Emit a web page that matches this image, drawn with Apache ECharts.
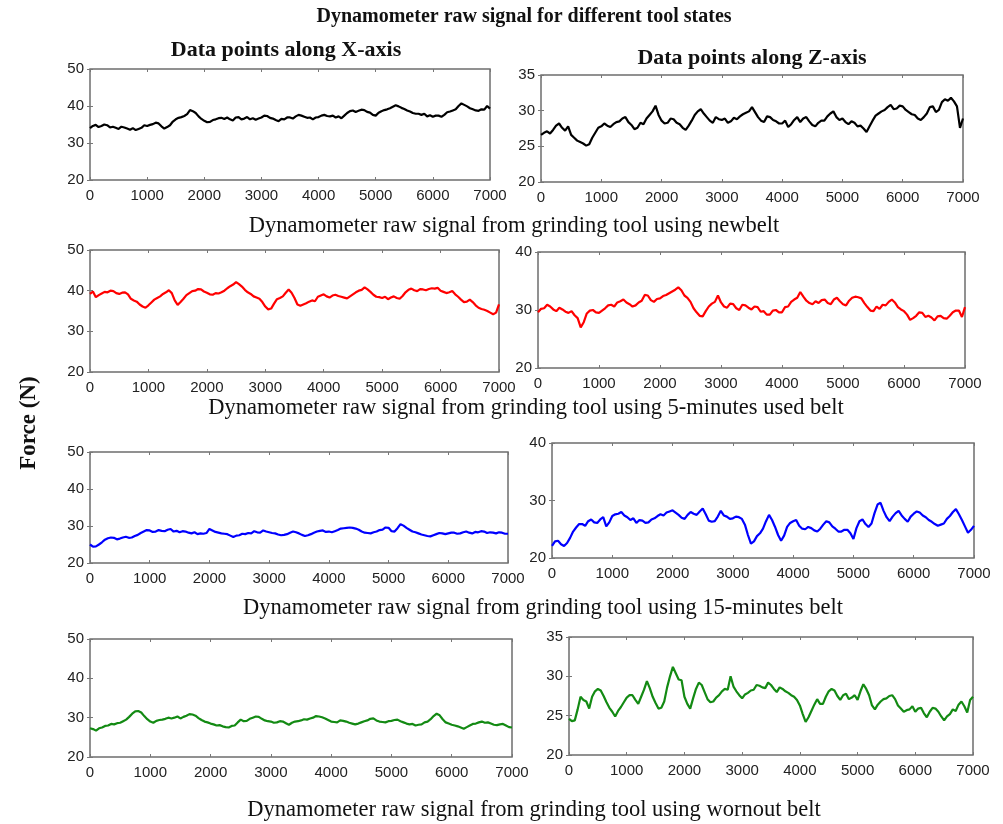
<!DOCTYPE html>
<html>
<head>
<meta charset="utf-8">
<script src="https://cdn.jsdelivr.net/npm/echarts@6/dist/echarts.min.js"></script>
<style>
  html, body { margin: 0; padding: 0; background: #fff; }
  #container { width: 1003px; height: 824px; }
</style>
</head>
<body>
<div id="container"></div>
<script>
// one sample every 50 points, 0..7000 (each row of 20 = 1000 points)
const step = 50;

const xNewBelt = [34, 34.6, 34.9, 34.3, 34.6, 35, 34.8, 34.2, 34.4, 34.1, 33.8, 34.4, 34.2, 33.9, 33.6, 34, 33.5, 33.8, 34.1, 34.8,
  34.6, 34.9, 35.1, 35.5, 35.3, 34.5, 33.9, 34.3, 34.8, 35.8, 36.4, 36.8, 37, 37.3, 37.8, 38.9, 38.6, 38.1, 37.2, 36.5,
  36, 35.6, 35.7, 36.2, 36.4, 36.7, 36.8, 36.5, 36.9, 36.4, 36.1, 36.9, 37, 36.4, 36.6, 37, 36.4, 36.7, 36.3, 36.6,
  36.9, 37.4, 37.3, 36.8, 36.6, 36.2, 35.9, 36.5, 36.4, 36.9, 36.9, 36.6, 37.2, 37.6, 37.4, 37.1, 36.8, 36.9, 36.4, 36.9,
  37, 37.4, 37.6, 37.3, 37.2, 37.4, 36.9, 37.2, 36.7, 37.4, 38.1, 38.6, 38.8, 38.4, 38.7, 39, 38.9, 38.4, 38.2, 37.6,
  37.4, 38.2, 38.6, 38.9, 39.1, 39.4, 39.8, 40.2, 39.9, 39.5, 39.2, 38.8, 38.5, 38.1, 37.9, 37.9, 37.6, 37.9, 37.2, 37.5,
  37.1, 37.4, 37.4, 37.1, 37.6, 38.3, 38.5, 38.8, 39.1, 40, 40.7, 40.3, 39.9, 39.4, 39.1, 38.8, 38.7, 39.1, 39, 40, 39.3];
const zNewBelt = [26.6, 26.9, 27.1, 26.8, 27.3, 27.9, 28.2, 27.6, 27.2, 27.8, 26.6, 26.2, 25.8, 25.6, 25.4, 25.1, 25.3, 26.2, 26.9, 27.6,
  27.8, 28.2, 27.9, 27.7, 28.1, 28.4, 28.5, 28.9, 29.1, 28.4, 28, 27.4, 27.6, 28.3, 28.1, 28.9, 29.4, 29.9, 30.7, 29.4,
  28.6, 28.2, 28.3, 28.9, 28.8, 28.3, 28.1, 27.6, 27.3, 27.9, 28.6, 29.4, 29.9, 30.2, 29.6, 29.1, 28.6, 28.3, 29.1, 28.8,
  28.7, 28.9, 28.3, 28.5, 29, 28.8, 29.2, 29.5, 29.7, 29.9, 30.5, 29.8, 29.1, 28.6, 28.4, 29.2, 29.1, 28.7, 28.5, 28.2,
  28.2, 28.6, 27.7, 28.1, 28.7, 29.1, 28.4, 28.9, 29.1, 28.5, 28, 27.8, 28.3, 28.6, 28.6, 29.2, 29.6, 29.9, 29.1, 28.7,
  28.9, 28.4, 28.1, 28.5, 28.3, 27.8, 27.9, 27.5, 27, 27.8, 28.6, 29.3, 29.6, 29.9, 30.1, 30.5, 30.8, 30.2, 30.3, 30.7,
  30.6, 30.1, 29.8, 29.5, 29.4, 28.9, 28.7, 29.1, 29.6, 30.5, 30.6, 29.8, 30.1, 31.2, 31.6, 31.4, 31.8, 31.3, 30.6, 27.6, 28.9];
const x5Min = [39.2, 39.8, 38.4, 38.9, 39.3, 39.7, 39.6, 40, 39.9, 39.4, 39.2, 39.5, 39.6, 39.1, 38, 37.6, 37.3, 36.6, 36.1, 35.8,
  36.4, 37.1, 37.8, 38.2, 38.6, 39.2, 39.6, 40.1, 39.4, 37.6, 36.5, 37.2, 38, 38.9, 39.4, 39.9, 40, 40.4, 40.3, 39.8,
  39.5, 39.1, 39, 39.4, 39.3, 39.6, 40, 40.6, 41.1, 41.5, 42.1, 41.6, 41, 40.2, 39.6, 39.2, 38.6, 38.3, 38, 37.2,
  36.1, 35.4, 35.6, 36.8, 37.9, 38.2, 38.6, 39.5, 40.3, 39.5, 38.2, 36.6, 36.3, 36.6, 36.9, 37.3, 37.6, 37.4, 38.5, 38.8,
  39.1, 38.6, 38.3, 38.8, 39, 38.7, 38.5, 38.3, 38.1, 38.6, 39.1, 39.6, 40, 40.2, 40.8, 40.3, 39.7, 39, 38.5, 38.4,
  38.2, 38.5, 37.9, 38.3, 38.6, 38.2, 38, 38.7, 39.6, 40.2, 40.5, 40.1, 39.9, 40.4, 40.3, 40.1, 40.4, 40.6, 40.5, 40.7,
  40, 39.7, 39.4, 39.6, 39.9, 39.1, 38.5, 37.8, 37.2, 37.3, 37.8, 37.2, 36.4, 35.8, 35.5, 35.3, 35, 34.6, 34.2, 34.6, 36.6];
const z5Min = [29.6, 30.2, 30.3, 30.9, 30.6, 30.1, 29.8, 30.4, 30.1, 29.7, 29.5, 29.8, 29.1, 28.6, 27, 27.9, 29.4, 29.9, 30, 29.6,
  29.5, 29.9, 30.3, 30.8, 30.9, 30.6, 31.3, 31.5, 31.8, 31.3, 31, 30.6, 30.8, 31.3, 31.6, 32.6, 32.5, 31.7, 31.4, 31.9,
  32, 32.4, 32.6, 32.9, 33.2, 33.5, 33.9, 33.4, 32.5, 32.1, 31.4, 30.3, 29.6, 29, 28.9, 29.8, 30.6, 31.1, 31.4, 32.5,
  31.3, 30.6, 30.4, 31.1, 31, 30.3, 30, 30.9, 30.8, 30.4, 30.1, 30.6, 30.5, 29.7, 29.8, 29.2, 29.2, 29.9, 30, 29.6,
  29.6, 30.5, 30.6, 31.4, 31.8, 32.1, 33.1, 32.3, 31.6, 31.2, 31, 31.5, 31.2, 31.7, 31.8, 31.2, 31, 31.8, 32.1, 31.5,
  31, 30.8, 31.6, 32.1, 32.3, 32.2, 32, 31.2, 30.5, 29.9, 29.8, 30.6, 30.2, 30.9, 30.8, 31.4, 31.8, 31.3, 30.5, 30.1,
  29.8, 29.2, 28.3, 28.6, 29, 29.6, 29.5, 28.8, 29, 28.7, 28.2, 28.9, 29, 28.6, 28.5, 29, 29.6, 29.9, 29.9, 28.8, 30.5];
const x15Min = [25, 24.4, 24.5, 25, 25.6, 26.3, 26.7, 26.9, 26.8, 26.4, 26.6, 26.9, 27.1, 26.8, 26.9, 27.3, 27.6, 28.1, 28.5, 28.9,
  28.8, 28.4, 28.5, 28.9, 28.7, 28.6, 29, 29.2, 28.5, 28.7, 28.3, 28.6, 28.5, 28.2, 28, 28.3, 27.8, 28, 27.9, 28.1,
  29.2, 28.8, 28.4, 28.2, 28, 27.9, 27.8, 27.4, 27, 27.4, 27.5, 27.9, 27.8, 28.1, 28, 28.6, 28.3, 28.2, 28.8, 28.5,
  28.3, 28.1, 28, 27.7, 27.5, 27.6, 27.8, 28.2, 28.5, 28.3, 28, 27.6, 27.3, 27.5, 27.8, 28.2, 28.5, 28.7, 28.8, 28.4,
  28.5, 28.3, 28.6, 28.9, 29.3, 29.4, 29.5, 29.6, 29.5, 29.3, 29, 28.5, 28.2, 28.1, 28, 28.3, 28.5, 28.9, 29, 29.6,
  29.5, 28.6, 28.5, 29.4, 30.5, 30.1, 29.5, 29, 28.5, 28.3, 28, 27.7, 27.5, 27.3, 27.2, 27.5, 27.8, 28.1, 28, 27.8,
  28, 28.2, 28.2, 27.9, 28, 28.3, 28.5, 28.2, 28, 28.4, 28.3, 28.6, 28.5, 28.1, 28.3, 28.2, 28, 28.3, 28.2, 27.9, 27.9];
const z15Min = [22.1, 22.9, 23, 22.4, 22.1, 22.6, 23.5, 24.6, 25.3, 25.9, 25.9, 25.6, 26.4, 26.7, 26.2, 26.1, 26.7, 27.1, 25.5, 26.2,
  27.3, 27.6, 27.7, 28, 27.4, 27.1, 26.6, 26.9, 26.1, 26.6, 26.5, 26.1, 26.2, 26.7, 26.9, 27.3, 27.6, 27.4, 27.9, 28.1,
  28.3, 27.9, 27.5, 27, 26.8, 27.5, 28, 27.7, 27.5, 28.1, 28.6, 27.6, 26.5, 26.3, 26.4, 27.2, 28.2, 27.4, 27.2, 26.8,
  26.9, 27.2, 27.1, 26.8, 25.8, 24, 22.5, 22.9, 23.8, 24.3, 25.1, 26.4, 27.5, 26.6, 25.4, 24, 23, 23.9, 25.4, 26.1,
  26.4, 26.6, 25.6, 25.1, 25, 25.4, 25.2, 24.8, 24.6, 25.1, 25.8, 26.4, 26.2, 25.5, 25.1, 24.6, 24.6, 24.9, 24.9, 24.3,
  23.3, 25.2, 26.4, 26.7, 25.9, 25.4, 26, 27.8, 29.3, 29.6, 28.2, 27.1, 26.4, 27.2, 27.8, 28.2, 27.4, 26.8, 26.3, 27.2,
  27.7, 28.1, 27.9, 27.4, 27.1, 26.6, 26.3, 25.9, 25.6, 25.8, 26, 26.8, 27.3, 28, 28.5, 27.6, 26.6, 25.5, 24.4, 24.9, 25.6];
const xWornout = [27.3, 27.1, 26.7, 27.3, 27.5, 27.9, 28, 28.4, 28.3, 28.6, 28.7, 29.1, 29.5, 30.2, 31, 31.6, 31.7, 31.3, 30.4, 29.6,
  29, 28.7, 29.2, 29.4, 29.5, 29.7, 30, 29.8, 30, 30.3, 29.8, 30.2, 30.5, 30.9, 30.8, 30.5, 29.9, 29.4, 29, 28.8,
  28.5, 28.3, 28, 28.1, 27.8, 27.6, 27.5, 27.9, 28, 28.8, 29.5, 29.1, 29.2, 29.7, 30, 30.3, 30.2, 29.7, 29.3, 29.1,
  29, 28.7, 28.8, 29.1, 29, 28.6, 28.2, 28.7, 29, 29.1, 29.3, 29.6, 29.5, 29.8, 30, 30.4, 30.3, 30.1, 29.8, 29.4,
  29, 28.9, 28.8, 29.3, 29.2, 29, 28.7, 28.5, 28.3, 28.5, 28.8, 29.1, 29.3, 29.7, 29.8, 29.3, 29, 28.9, 28.8, 29.1,
  29.2, 29.4, 29.5, 29.1, 28.8, 28.5, 28.3, 28.4, 28, 28.2, 28.3, 28.8, 29, 29.6, 30.4, 31, 30.6, 29.6, 28.8, 28.5,
  28.2, 28, 27.8, 27.5, 27.2, 27.6, 28, 28.4, 28.5, 28.8, 29, 28.7, 28.8, 28.5, 28.2, 28.1, 28.3, 28.4, 28, 27.6, 27.5];
const zWornout = [24.6, 24.3, 24.4, 25.8, 27.4, 27, 26.8, 25.9, 27.4, 28.1, 28.4, 28.2, 27.5, 26.7, 26, 25.5, 24.9, 25.6, 26.1, 26.7,
  27.3, 27.6, 27.6, 27, 26.5, 27.4, 28.3, 29.4, 28.5, 27.4, 26.6, 25.9, 26, 26.8, 28.6, 30, 31.2, 30.4, 29.6, 29.5,
  27.4, 26.5, 25.9, 27.2, 28.4, 29.2, 28.9, 28, 27.1, 26.7, 26.8, 27.3, 27.6, 28.1, 28.4, 28.3, 30, 28.7, 28.1, 27.6,
  27.2, 27.7, 27.9, 28.2, 28.3, 28.9, 28.8, 28.6, 28.5, 29.2, 28.9, 28.4, 28, 28.6, 28.4, 28.1, 27.9, 27.6, 27.4, 27,
  26.3, 25.2, 24.2, 24.8, 25.6, 26.4, 27.1, 26.5, 26.5, 27.4, 28.1, 28.4, 28.2, 27.5, 27, 27.6, 27.8, 27.1, 27.3, 27.6,
  27, 28.1, 29, 28.4, 27.6, 26.3, 25.8, 26.4, 26.8, 27.1, 27.2, 27.5, 27.6, 27.1, 26.3, 25.9, 25.5, 25.7, 25.8, 26.2,
  25.5, 25.9, 26, 25.3, 24.8, 25.5, 26, 25.9, 25.5, 24.9, 24.4, 24.9, 25.2, 25.8, 25.6, 26.4, 26.8, 26.2, 25.4, 27, 27.4];

const subtitles = [
  'Dynamometer raw signal from grinding tool using newbelt',
  'Dynamometer raw signal from grinding tool using 5-minutes used belt',
  'Dynamometer raw signal from grinding tool using 15-minutes belt',
  'Dynamometer raw signal from grinding tool using wornout belt'
];

let panels = [
  { data: xNewBelt, color: '#000000', min: 20, max: 50, interval: 10, left: 90, top: 69, width: 400, height: 111 },
  { data: zNewBelt, color: '#000000', min: 20, max: 35, interval: 5, left: 541, top: 75, width: 422, height: 107 },
  { data: x5Min, color: '#ff0000', min: 20, max: 50, interval: 10, left: 90, top: 250, width: 409, height: 122 },
  { data: z5Min, color: '#ff0000', min: 20, max: 40, interval: 10, left: 538, top: 252, width: 427, height: 116 },
  { data: x15Min, color: '#0000ff', min: 20, max: 50, interval: 10, left: 90, top: 452, width: 418, height: 111 },
  { data: z15Min, color: '#0000ff', min: 20, max: 40, interval: 10, left: 552, top: 443, width: 422, height: 115 },
  { data: xWornout, color: '#138a13', min: 20, max: 50, interval: 10, left: 90, top: 639, width: 422, height: 118 },
  { data: zWornout, color: '#138a13', min: 20, max: 35, interval: 5, left: 569, top: 637, width: 404, height: 118 }
];

let tickStyle = { show: true, inside: true, length: 3, lineStyle: { color: '#777', width: 1 } };
let labelStyle = {
  color: '#222', fontSize: 15, fontFamily: 'Liberation Sans, Arial, sans-serif',
  formatter: function (v) { return String(v); }
};

let grids = [], xAxes = [], yAxes = [], series = [];
panels.forEach(function (p, i) {
  grids.push({
    left: p.left, top: p.top, width: p.width, height: p.height,
    show: true, borderColor: '#6e6e6e', borderWidth: 1.5, backgroundColor: '#fff'
  });
  ['bottom', 'top'].forEach(function (pos) {
    xAxes.push({
      type: 'value', gridIndex: i, position: pos, min: 0, max: 7000, interval: 1000,
      axisLine: { show: false }, axisTick: tickStyle, splitLine: { show: false },
      axisLabel: pos === 'bottom' ? Object.assign({ margin: 8 }, labelStyle) : { show: false }
    });
  });
  ['left', 'right'].forEach(function (pos) {
    yAxes.push({
      type: 'value', gridIndex: i, position: pos, min: p.min, max: p.max, interval: p.interval,
      axisLine: { show: false }, axisTick: tickStyle, splitLine: { show: false },
      axisLabel: pos === 'left' ? Object.assign({ margin: 6 }, labelStyle) : { show: false }
    });
  });
  series.push({
    type: 'line', xAxisIndex: i * 2, yAxisIndex: i * 2, showSymbol: false,
    lineStyle: { color: p.color, width: 2.2 },
    data: p.data.map(function (v, k) { return [k * step, v]; })
  });
});

let serif = 'Liberation Serif, Times New Roman, serif';
function label(text, x, y, size, weight) {
  return {
    type: 'text', x: x, y: y,
    style: { text: text, fontFamily: serif, fontSize: size, fontWeight: weight, fill: '#111',
      align: 'center', verticalAlign: 'middle' }
  };
}
let texts = [
  label('Dynamometer raw signal for different tool states', 524, 17, 20, 'bold'),
  label('Data points along X-axis', 286, 50, 22, 'bold'),
  label('Data points along Z-axis', 752, 58, 22, 'bold')
];
let subX = [514, 526, 543, 534];
let subY = [226, 408, 608, 810];
subtitles.forEach(function (t, i) { texts.push(label(t, subX[i], subY[i], 22.5, 'normal')); });
let force = label('Force (N)', 29, 423, 23, 'bold');
force.rotation = Math.PI / 2;
texts.push(force);

let chart = echarts.init(document.getElementById('container'));
chart.setOption({
  backgroundColor: '#fff',
  animation: false,
  grid: grids,
  xAxis: xAxes,
  yAxis: yAxes,
  series: series,
  graphic: texts
});
</script>
</body>
</html>
